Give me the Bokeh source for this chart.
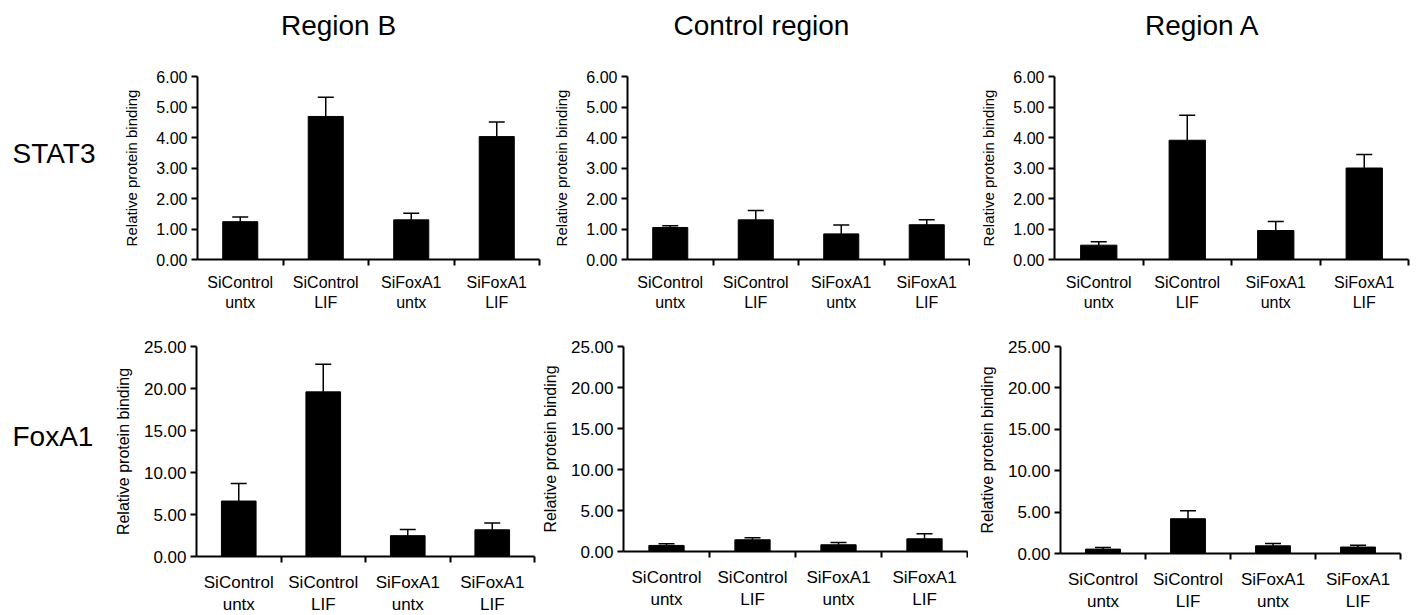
from bokeh.plotting import figure
from bokeh.models import (FactorRange, Range1d, LinearAxis, FixedTicker, NumeralTickFormatter,
                          Whisker, ColumnDataSource, TeeHead)
from bokeh.core.properties import value
from bokeh.layouts import column, row
from bokeh.embed import file_html
from bokeh.resources import INLINE

# ---------------- data ----------------
categories = ["SiControl untx", "SiControl LIF", "SiFoxA1 untx", "SiFoxA1 LIF"]
tick_labels = ["SiControl\nuntx", "SiControl\nLIF", "SiFoxA1\nuntx", "SiFoxA1\nLIF"]
regions = ["Region B", "Control region", "Region A"]
proteins = ["STAT3", "FoxA1"]
y_title = "Relative protein binding"

stat3_region_b = [1.24, 4.69, 1.30, 4.03]
stat3_region_b_err = [0.15, 0.63, 0.22, 0.48]
stat3_control = [1.05, 1.30, 0.84, 1.14]
stat3_control_err = [0.06, 0.31, 0.29, 0.16]
stat3_region_a = [0.47, 3.91, 0.95, 3.00]
stat3_region_a_err = [0.11, 0.82, 0.30, 0.44]

foxa1_region_b = [6.60, 19.60, 2.48, 3.18]
foxa1_region_b_err = [2.10, 3.30, 0.74, 0.82]
foxa1_control = [0.74, 1.43, 0.82, 1.55]
foxa1_control_err = [0.20, 0.25, 0.28, 0.60]
foxa1_region_a = [0.53, 4.20, 0.93, 0.78]
foxa1_region_a_err = [0.19, 0.96, 0.28, 0.22]

stat3_ticks = [0, 1, 2, 3, 4, 5, 6]
foxa1_ticks = [0, 5, 10, 15, 20, 25]

FONT = "Liberation Sans"
W, H = 1423, 615
HEADER_H = 50
STRIP_W = 110
TOP_ROW_H = 265
BOT_ROW_H = 300
title_x = [338, 761, 1202]       # horizontal centres of the column titles (page pixels)
label_y = [111, 131]             # vertical centres of the row labels inside their strips


def blank(width, height):
    p = figure(width=width, height=height, x_range=Range1d(0, width),
               y_range=Range1d(height, 0),
               x_axis_location=None, y_axis_location=None, min_border=0,
               output_backend="svg", toolbar_location=None)
    p.outline_line_color = None
    p.xgrid.visible = False
    p.ygrid.visible = False
    p.background_fill_color = "white"
    p.border_fill_color = "white"
    return p


def make_panel(values, errs, yticks, layout, st):
    left, fw, right, top, fh, bottom = layout
    tick_font, xlab_font, ytitle_font, ytitle_standoff, xlab_lh, xlab_standoff = st
    src = ColumnDataSource(dict(
        cat=categories,
        value=values,
        upper=[v + e for v, e in zip(values, errs)],
    ))
    p = figure(x_range=FactorRange(*categories), y_range=Range1d(yticks[0], yticks[-1]),
               frame_width=fw, frame_height=fh,
               width=left + fw + right, height=top + fh + bottom,
               min_border_left=left, min_border_right=right,
               min_border_top=top, min_border_bottom=bottom,
               x_axis_location=None, output_backend="svg", toolbar_location=None)
    p.outline_line_color = None
    p.background_fill_color = "white"
    p.border_fill_color = "white"
    p.xgrid.visible = False
    p.ygrid.visible = False

    p.vbar(x="cat", top="value", width=0.41, source=src, color="black")
    w = Whisker(source=src, base="cat", upper="upper", lower="value", dimension="height",
                line_color="black", line_width=1.5,
                upper_head=TeeHead(size=16, line_color="black", line_width=1.5),
                lower_head=None)
    p.add_layout(w)

    # x axis: labels at category centres, ticks between categories
    n = len(categories)
    centers = [i + 0.5 for i in range(n)]
    xa = LinearAxis(ticker=FixedTicker(ticks=centers, minor_ticks=list(range(1, n + 1))),
                    major_label_overrides={c: t for c, t in zip(centers, tick_labels)})
    xa.axis_line_width = 2
    xa.axis_line_color = "black"
    xa.major_tick_line_color = None
    xa.minor_tick_line_color = "black"
    xa.minor_tick_line_width = 2
    xa.minor_tick_out = 6
    xa.minor_tick_in = 0
    xa.major_label_standoff = xlab_standoff
    xa.major_label_text_font = FONT
    xa.major_label_text_font_size = xlab_font
    xa.major_label_text_line_height = xlab_lh
    xa.major_label_text_color = "black"
    p.add_layout(xa, "below")

    ya = p.yaxis[0]
    ya.ticker = FixedTicker(ticks=yticks, minor_ticks=[])
    ya.formatter = NumeralTickFormatter(format="0.00")
    ya.axis_line_width = 2
    ya.axis_line_color = "black"
    ya.major_tick_line_width = 2
    ya.major_tick_line_color = "black"
    ya.major_tick_out = 6
    ya.major_tick_in = 0
    ya.minor_tick_line_color = None
    ya.major_label_text_font = FONT
    ya.major_label_text_font_size = tick_font
    ya.major_label_text_color = "black"
    ya.major_label_standoff = 4
    ya.axis_label = y_title
    ya.axis_label_text_font = FONT
    ya.axis_label_text_font_style = "normal"
    ya.axis_label_text_font_size = ytitle_font
    ya.axis_label_text_color = "black"
    ya.axis_label_standoff = ytitle_standoff
    return p


top_style = ("16px", "16px", "15px", 13, 1.2, 8)
bot_style = ("17px", "17px", "16px", 9, 1.2, 10)

# (min_border_left, frame_width, min_border_right, min_border_top, frame_height, min_border_bottom)
f1 = make_panel(stat3_region_b, stat3_region_b_err, stat3_ticks, (87, 342, 4, 26, 183, 56), top_style)
f2 = make_panel(stat3_control, stat3_control_err, stat3_ticks, (84, 342, 1, 26, 183, 56), top_style)
f3 = make_panel(stat3_region_a, stat3_region_a_err, stat3_ticks, (84, 354, 15, 26, 183, 56), top_style)
f4 = make_panel(foxa1_region_b, foxa1_region_b_err, foxa1_ticks, (86, 338, 4, 31, 210, 59), bot_style)
f5 = make_panel(foxa1_control, foxa1_control_err, foxa1_ticks, (83, 344, 1, 31, 205, 64), bot_style)
f6 = make_panel(foxa1_region_a, foxa1_region_a_err, foxa1_ticks, (92, 340, 25, 31, 207, 62), bot_style)

header = blank(W, HEADER_H)
header.text(x=title_x, y=[HEADER_H / 2] * 3, text=regions,
            text_font=value(FONT), text_font_size=value("28px"), text_color="black",
            text_align="center", text_baseline="middle")

strip_top = blank(STRIP_W, TOP_ROW_H)
strip_top.text(x=[12], y=[label_y[0]], text=[proteins[0]],
               text_font=value(FONT), text_font_size=value("28px"), text_color="black",
               text_align="left", text_baseline="middle")
strip_bot = blank(STRIP_W, BOT_ROW_H)
strip_bot.text(x=[12], y=[label_y[1]], text=[proteins[1]],
               text_font=value(FONT), text_font_size=value("28px"), text_color="black",
               text_align="left", text_baseline="middle")

layout = column(header,
                row(strip_top, f1, f2, f3, spacing=0),
                row(strip_bot, f4, f5, f6, spacing=0),
                spacing=0)

open("out.html", "w").write(file_html(layout, INLINE))
